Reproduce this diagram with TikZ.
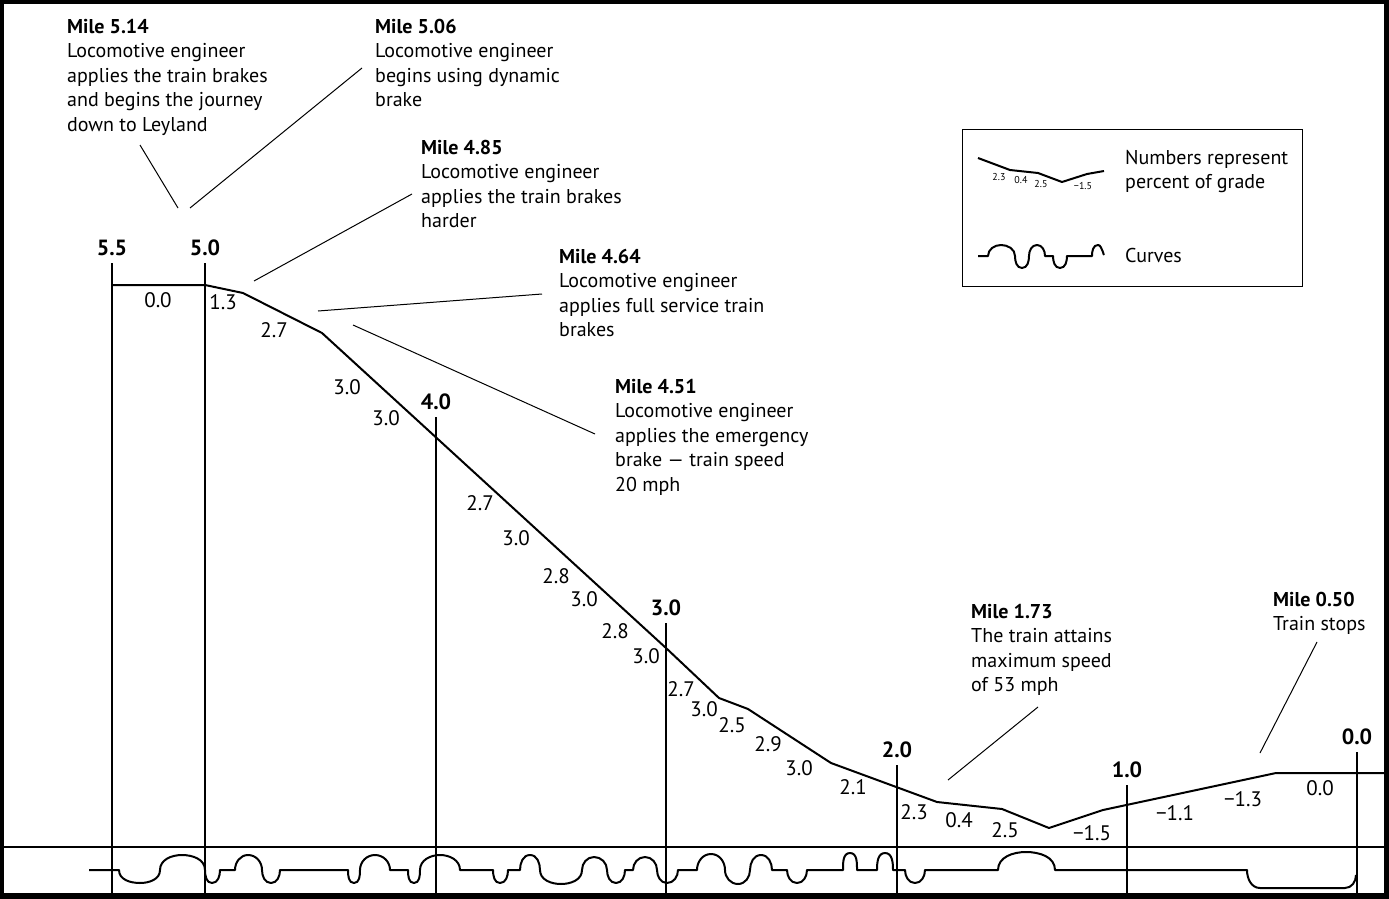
\documentclass[tikz,border=0pt]{standalone}
\usepackage{fontspec}
\setmainfont{PT Sans}
\tikzset{
	grade/.style={font=\fontsize{21}{24}\selectfont, inner sep=0pt},
	milemark/.style={font=\bfseries\fontsize{22}{24}\selectfont, inner sep=0pt},
	note/.style={font=\fontsize{20}{24.5}\selectfont, align=left, anchor=base west, inner sep=0pt},
	tiny/.style={font=\fontsize{10}{12}\selectfont, inner sep=0pt},
	leader/.style={line width=1pt},
	track/.style={line width=2pt, line join=round},
}
\begin{document}
\begin{tikzpicture}[x=1pt, y=1pt]
	\useasboundingbox (0,0) rectangle (1389,-899);
	% Frame
	\fill [black] (0,0) rectangle (1389,-899);
	\fill [white] (4,-4) rectangle (1384,-893);
	\draw [track] (4,-847) -- (1384,-847);
	% Mile posts
	\foreach \x/\top/\lab [count=\i] in {112/263/5.5, 205/263/5.0, 436/417/4.0, 666/623/3.0, 897/765/2.0, 1127/785/1.0, 1357/752/0.0} {
		\draw [track] (\x,-\top) -- (\x,-893);
		\node [milemark] (mile\i) at (\x,-\top+15) {\lab};
	}
	% Profile
	\draw [track] (112,-285) -- (205,-285) -- (243,-293) -- (322,-333) -- (666,-648) -- (719,-698) -- (748,-709) -- (831,-763) -- (937,-802) -- (1002,-809) -- (1049,-828) -- (1103,-810) -- (1276,-773) -- (1384,-773);
	% Grades
	\foreach \x/\y/\t [count=\i] in {158/300/0.0, 223/302/1.3, 274/330/2.7, 347/387/3.0, 386/418/3.0, 480/503/2.7, 516/538/3.0, 556/576/2.8, 584/599/3.0, 615/631/2.8, 646/656/3.0, 681/689/2.7, 704/709/3.0, 732/725/2.5, 768/744/2.9, 799/768/3.0, 853/787/2.1, 914/812/2.3, 959/820/0.4, 1005/830/2.5, 1092/833/−1.5, 1175/813/−1.1, 1243/799/−1.3, 1320/788/0.0} {
		\node [grade] (grade\i) at (\x,-\y) {\t};
	}
	% Curves
	\draw [track] (89,-870) -- (119,-870)
		to[out=-90,in=180] (140,-883) to[out=0,in=-90] (160,-870)
		to[out=90,in=180] (182,-855) to[out=0,in=90] (205,-870)
		to[out=-90,in=180] (212,-883) to[out=0,in=-90] (220,-870) -- (235,-870)
		to[out=90,in=180] (248,-855) to[out=0,in=90] (262,-870)
		to[out=-90,in=180] (271,-883) to[out=0,in=-90] (280,-870) -- (348,-870)
		to[out=-90,in=180] (354,-883) to[out=0,in=-90] (360,-870)
		to[out=90,in=180] (375,-855) to[out=0,in=90] (390,-870) -- (408,-870)
		to[out=-90,in=180] (414,-883) to[out=0,in=-90] (420,-870)
		to[out=90,in=180] (440,-855) to[out=0,in=90] (460,-870) -- (493,-870)
		to[out=-90,in=180] (500,-883) to[out=0,in=-90] (508,-870) -- (520,-870)
		to[out=90,in=180] (530,-855) to[out=0,in=90] (540,-870)
		to[out=-90,in=180] (561,-884) to[out=0,in=-90] (582,-870)
		to[out=90,in=180] (594,-857) to[out=0,in=90] (607,-870)
		to[out=-90,in=180] (616,-883) to[out=0,in=-90] (625,-870) -- (633,-870)
		to[out=90,in=180] (645,-857) to[out=0,in=90] (657,-870)
		to[out=-90,in=180] (667,-883) to[out=0,in=-90] (678,-870) -- (697,-870)
		to[out=90,in=180] (711,-854) to[out=0,in=90] (725,-870)
		to[out=-90,in=180] (738,-884) to[out=0,in=-90] (750,-870)
		to[out=90,in=180] (761,-855) to[out=0,in=90] (772,-870) -- (787,-870)
		to[out=-90,in=180] (797,-883) to[out=0,in=-90] (807,-870) -- (843,-870)
		to[out=90,in=180] (850,-853) to[out=0,in=90] (857,-870) -- (877,-870)
		to[out=90,in=180] (885,-853) to[out=0,in=90] (893,-870) -- (905,-870)
		to[out=-90,in=180] (915,-883) to[out=0,in=-90] (925,-870) -- (998,-870)
		to[out=90,in=180] (1026,-852) to[out=0,in=90] (1055,-870) -- (1247,-870)
		to[out=-90,in=180] (1260,-888) -- (1345,-888)
		to[out=0,in=-90] (1356,-875);
	% Notes (placed at the baseline of their last line)
	\node [note] (m514) at (67,-131) {\textbf{Mile 5.14}\\Locomotive engineer\\applies the train brakes\\and begins the journey\\down to Leyland};
	\node [note] (m506) at (375,-106.5) {\textbf{Mile 5.06}\\Locomotive engineer\\begins using dynamic\\brake};
	\node [note] (m485) at (421,-227.5) {\textbf{Mile 4.85}\\Locomotive engineer\\applies the train brakes\\harder};
	\node [note] (m464) at (559,-336.5) {\textbf{Mile 4.64}\\Locomotive engineer\\applies full service train\\brakes};
	\node [note] (m451) at (615,-491) {\textbf{Mile 4.51}\\Locomotive engineer\\applies the emergency\\brake — train speed\\20 mph};
	\node [note] (m173) at (971,-691.5) {\textbf{Mile 1.73}\\The train attains\\maximum speed\\of 53 mph};
	\node [note] (m050) at (1273,-630.5) {\textbf{Mile 0.50}\\Train stops};
	% Leaders
	\coordinate (m514a) at (140,-145); \coordinate (m514b) at (178,-208);
	\coordinate (m506a) at (362,-68);  \coordinate (m506b) at (190,-208);
	\coordinate (m485a) at (412,-194); \coordinate (m485b) at (254,-281);
	\coordinate (m464a) at (542,-294); \coordinate (m464b) at (318,-311);
	\coordinate (m451a) at (595,-434); \coordinate (m451b) at (353,-325);
	\coordinate (m173a) at (1038,-707); \coordinate (m173b) at (948,-780);
	\coordinate (m050a) at (1317,-642); \coordinate (m050b) at (1260,-753);
	\foreach \n in {m514, m506, m485, m464, m451, m173, m050} {
		\draw [leader] (\n a) -- (\n b);
	}
	% Legend
	\node [draw, line width=1.2pt, minimum width=340pt, minimum height=157pt, anchor=north west, inner sep=0pt] (legend) at (962,-129) {};
	\draw [track] (978,-158) -- (1010,-170) -- (1038,-173) -- (1062,-182) -- (1087,-174) -- (1104,-171);
	\node [tiny] (lg1) at (999,-177) {2.3};
	\node [tiny] (lg2) at (1021,-180) {0.4};
	\node [tiny] (lg3) at (1041,-184) {2.5};
	\node [tiny] (lg4) at (1083,-186) {−1.5};
	\draw [track] (978,-256) -- (988,-256)
		to[out=90,in=180] (1001,-245) to[out=0,in=90] (1015,-256)
		to[out=-90,in=180] (1022,-268) to[out=0,in=-90] (1029,-256)
		to[out=90,in=180] (1037,-245) to[out=0,in=90] (1045,-256) -- (1053,-256)
		to[out=-90,in=180] (1060,-268) to[out=0,in=-90] (1067,-256) -- (1092,-256)
		to[out=90,in=180] (1098,-245) to[out=0,in=-90] (1104,-254);
	\node [note] (lgtext) at (1125,-188.5) {Numbers represent\\percent of grade};
	\node [note] (lgcurve) at (1125,-262) {Curves};
\end{tikzpicture}
\end{document}
